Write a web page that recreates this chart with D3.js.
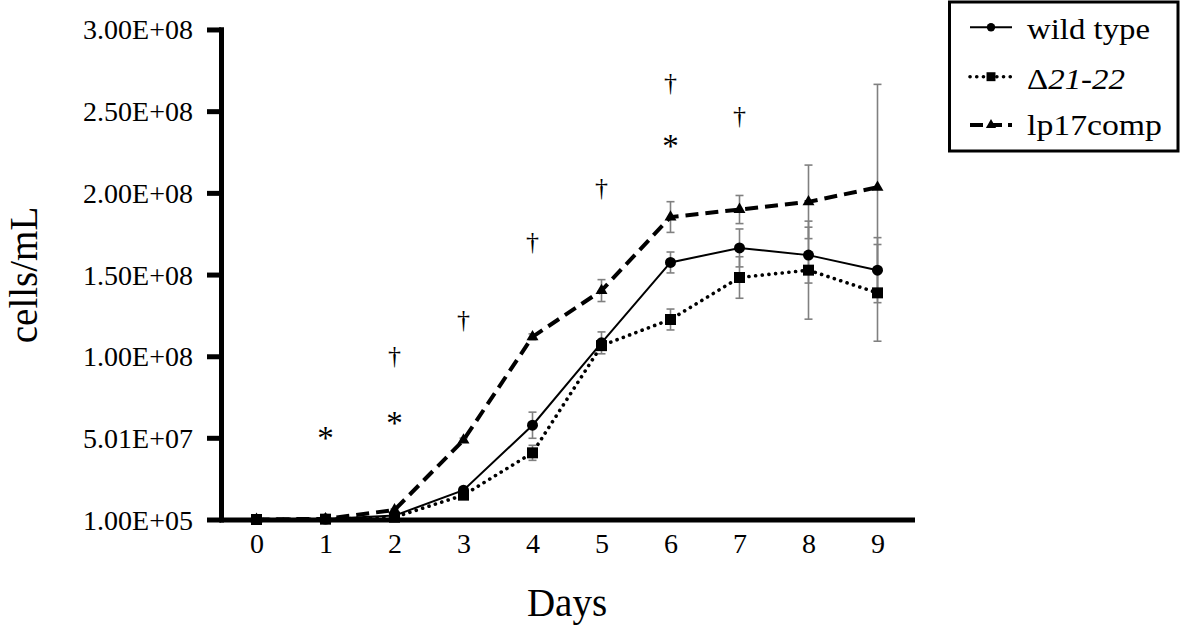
<!DOCTYPE html>
<html><head><meta charset="utf-8">
<script src="https://cdn.jsdelivr.net/npm/d3@7"></script>
<style>
body{margin:0;background:#fff}
text{font-family:"Liberation Serif","Times New Roman",serif;fill:#000}
</style>
</head><body>
<svg id="c" width="1181" height="625"></svg>
<script>
// ---- data ----
const days = [0,1,2,3,4,5,6,7,8,9];
const seriesNames = ["wild type", "Δ21-22", "lp17comp"];
const wildType    = [1e5, 4e5, 2.5e6, 1.80e7, 5.78e7, 1.082e8, 1.574e8, 1.663e8, 1.619e8, 1.527e8];
const wildTypeErr = [0, 0, 0, 1.2e6, 8.0e6, 6.7e6, 6.4e6, 1.16e7, 1.71e7, 1.99e7];
const delta2122    = [1e5, 3e5, 1.5e6, 1.50e7, 4.09e7, 1.065e8, 1.225e8, 1.482e8, 1.527e8, 1.388e8];
const delta2122Err = [0, 0, 0, 1.2e6, 4.6e6, 2.4e6, 6.4e6, 1.27e7, 3.0e7, 2.96e7];
const lp17comp    = [1e5, 5e5, 5.9e6, 4.87e7, 1.119e8, 1.402e8, 1.852e8, 1.898e8, 1.945e8, 2.034e8];
const lp17compErr = [0, 0, 6e5, 1.2e6, 1.8e6, 6.7e6, 9.4e6, 8.6e6, 2.25e7, 6.3e7];
const yTickValues = [1e5, 5.01e7, 1.0e8, 1.5e8, 2.0e8, 2.5e8, 3.0e8];
const yTickLabels = ["1.00E+05","5.01E+07","1.00E+08","1.50E+08","2.00E+08","2.50E+08","3.00E+08"];
const annoDays    = [1, 2, 2, 3, 4, 5, 6, 6, 7];
const annoSymbols = ["*", "*", "†", "†", "†", "†", "*", "†", "†"];
const annoValues  = [5.3e7, 6.2e7, 9.9e7, 1.21e8, 1.69e8, 2.02e8, 2.32e8, 2.66e8, 2.46e8];

// ---- setup ----
const svg = d3.select("#c");
const x = d3.scalePoint().domain(days).range([222, 912]).padding(0.5);
const y = d3.scaleLinear().domain([1e5, 3.001e8]).range([519.5, 29.3]);

const series = [
  {name: seriesNames[0], vals: wildType, err: wildTypeErr, sym: d3.symbolCircle, size: 95, lsize: 55,
   stroke: {"stroke-width": 2, "stroke-dasharray": null, "stroke-linecap": "butt"}},
  {name: seriesNames[1], vals: delta2122, err: delta2122Err, sym: d3.symbolSquare, size: 121, lsize: 80,
   stroke: {"stroke-width": 3.6, "stroke-dasharray": "0.1 6.6", "stroke-linecap": "round"}},
  {name: seriesNames[2], vals: lp17comp, err: lp17compErr, sym: d3.symbolTriangle, size: 62, lsize: 45,
   stroke: {"stroke-width": 4, "stroke-dasharray": "13 7", "stroke-linecap": "butt"}}
];

// ---- axes ----
const yAxis = svg.append("g").attr("transform", "translate(221,0)")
  .call(d3.axisLeft(y).tickValues(yTickValues).tickFormat((d,i) => yTickLabels[i])
        .tickSize(14).tickSizeOuter(0).tickPadding(14));
yAxis.select(".domain").attr("stroke", "#000").attr("stroke-width", 5).attr("stroke-linecap", "square");
yAxis.selectAll(".tick line").attr("stroke", "#000").attr("stroke-width", 5);
yAxis.selectAll(".tick text").attr("font-size", 28).attr("dy", "0.34em");

const xAxis = svg.append("g").attr("transform", "translate(0,519.5)")
  .call(d3.axisBottom(x).tickSize(0).tickSizeOuter(0).tickPadding(14));
xAxis.select(".domain").attr("stroke", "#000").attr("stroke-width", 5).attr("stroke-linecap", "square");
xAxis.selectAll(".tick text").attr("font-size", 28);

// axis titles
svg.append("text").attr("x", 567).attr("y", 616).attr("text-anchor", "middle")
  .attr("font-size", 39).text("Days");
svg.append("text").attr("transform", "translate(37,275) rotate(-90)").attr("text-anchor", "middle")
  .attr("font-size", 39).text("cells/mL");

// ---- error bars ----
const eb = svg.append("g").attr("stroke", "#808080").attr("stroke-width", 1.6);
series.forEach(s => {
  days.forEach((d, i) => {
    const e = s.err[i];
    if (!e) return;
    const cx = x(d), y1 = y(s.vals[i] + e), y2 = y(s.vals[i] - e);
    eb.append("line").attr("x1", cx).attr("x2", cx).attr("y1", y1).attr("y2", y2);
    eb.append("line").attr("x1", cx - 4).attr("x2", cx + 4).attr("y1", y1).attr("y2", y1);
    eb.append("line").attr("x1", cx - 4).attr("x2", cx + 4).attr("y1", y2).attr("y2", y2);
  });
});

// ---- lines and markers ----
const line = d3.line().x((d, i) => x(days[i])).y(d => y(d));
series.forEach(s => {
  const p = svg.append("path").attr("d", line(s.vals)).attr("fill", "none").attr("stroke", "#000");
  Object.entries(s.stroke).forEach(([k, v]) => { if (v !== null) p.attr(k, v); });
});
series.forEach(s => {
  svg.append("g").selectAll("path").data(s.vals).join("path")
    .attr("transform", (d, i) => `translate(${x(days[i])},${y(d)})`)
    .attr("d", d3.symbol().type(s.sym).size(s.size)).attr("fill", "#000");
});

// ---- significance marks ----
svg.append("g").selectAll("text").data(annoSymbols).join("text")
  .attr("x", (d, i) => x(annoDays[i]))
  .attr("y", (d, i) => y(annoValues[i]) + (d === "*" ? 16 : 6))
  .attr("text-anchor", "middle").attr("font-size", d => d === "*" ? 33 : 26).text(d => d);

// ---- legend ----
const lg = svg.append("g");
lg.append("rect").attr("x", 949.5).attr("y", 2).attr("width", 228.5).attr("height", 149)
  .attr("fill", "#fff").attr("stroke", "#000").attr("stroke-width", 3);
const legLineY = [27.3, 76.7, 125];
const legTextY = [39, 89, 135];
const legWidths = [123, 98, 135];
series.forEach((s, i) => {
  const l = lg.append("line").attr("x1", 970).attr("x2", 1012).attr("y1", legLineY[i]).attr("y2", legLineY[i])
    .attr("stroke", "#000");
  Object.entries(s.stroke).forEach(([k, v]) => { if (v !== null) l.attr(k, v); });
  if (i === 2) l.attr("stroke-dasharray", "13 6");
  lg.append("path").attr("transform", `translate(991,${legLineY[i]})`)
    .attr("d", d3.symbol().type(s.sym).size(s.lsize)).attr("fill", "#000");
  const t = lg.append("text").attr("x", 1027).attr("y", legTextY[i]).attr("font-size", 29)
    .attr("textLength", legWidths[i]).attr("lengthAdjust", "spacingAndGlyphs");
  if (i === 1) {
    t.append("tspan").text("Δ");
    t.append("tspan").attr("font-style", "italic").text("21-22");
  } else {
    t.text(s.name);
  }
});
</script>
</body></html>
